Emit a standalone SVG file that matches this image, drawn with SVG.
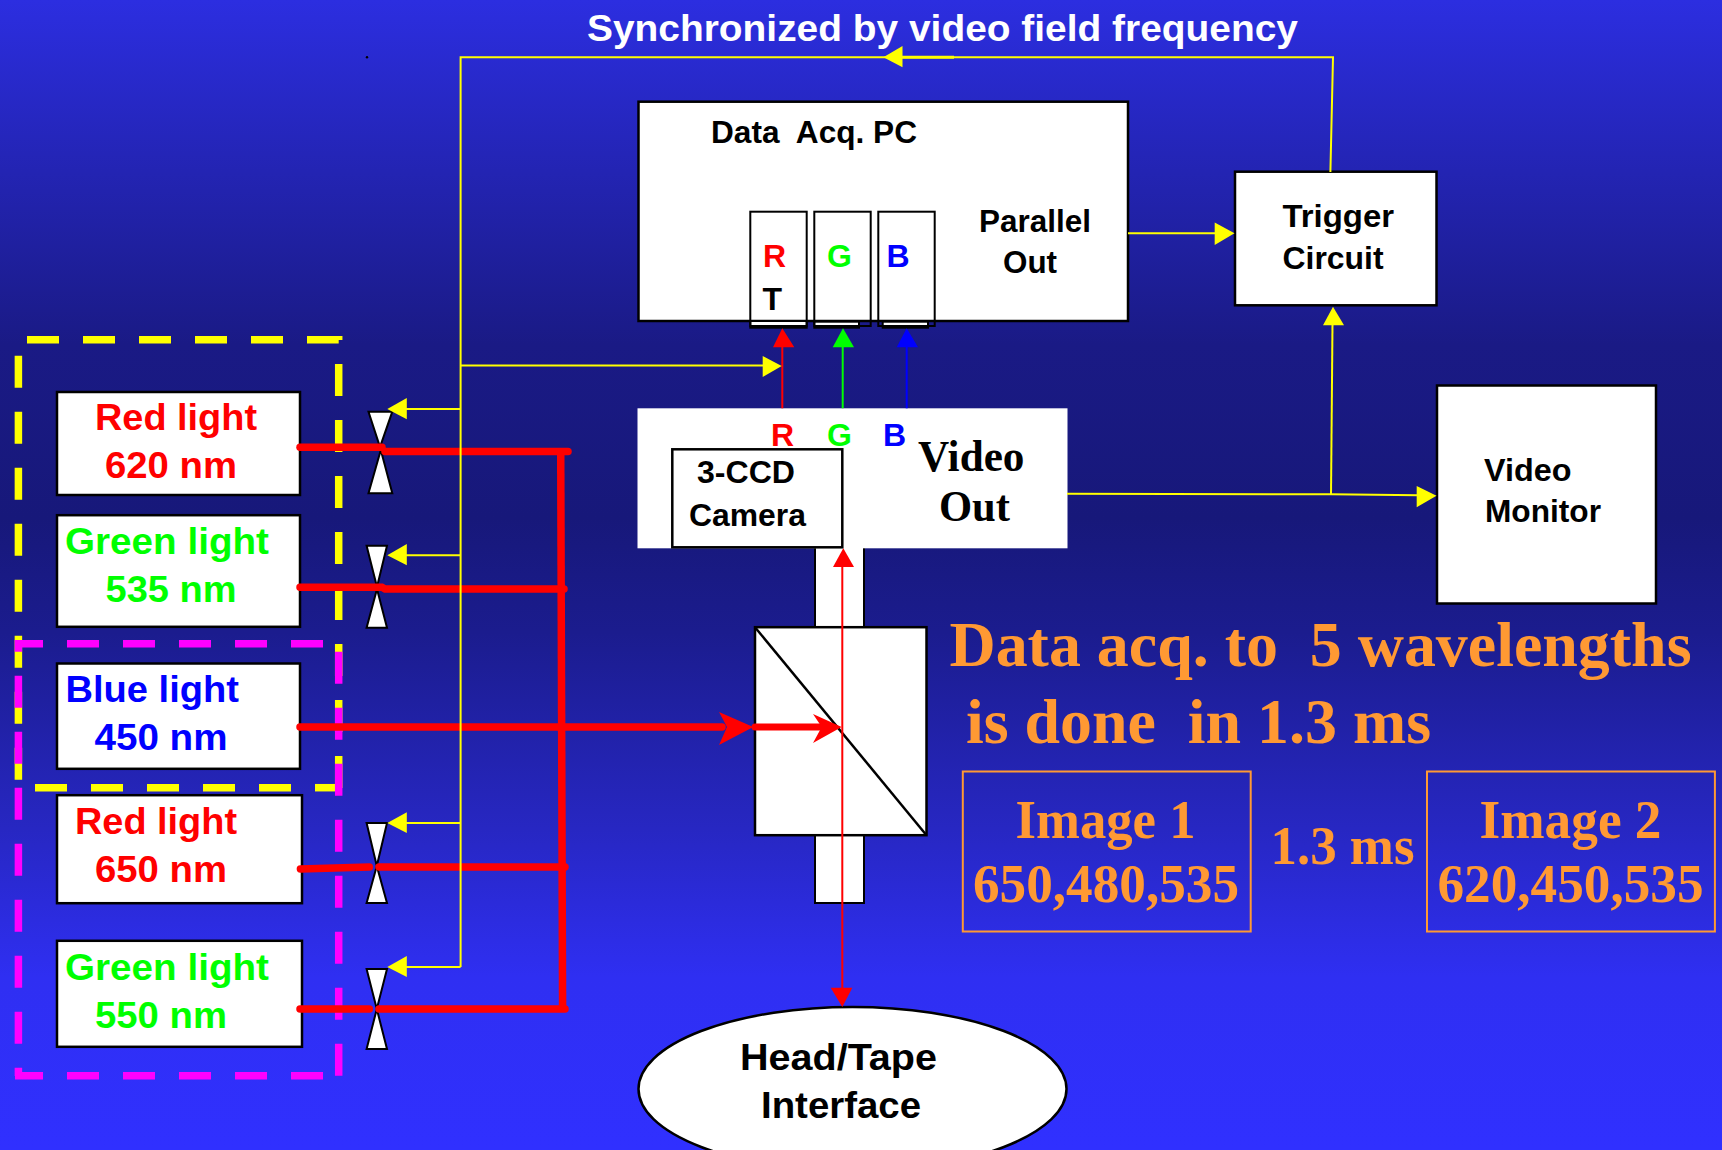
<svg xmlns="http://www.w3.org/2000/svg" width="1722" height="1150" viewBox="0 0 1722 1150">
<style>
.box{fill:#fff;stroke:#000;stroke-width:2.5}
.thin{fill:#fff;stroke:#000;stroke-width:2}
.a{font-family:"Liberation Sans",Arial,sans-serif;font-weight:700;font-size:36px}
.s{font-family:"Liberation Sans",Arial,sans-serif;font-weight:700;font-size:32px;fill:#000}
.t{font-family:"Liberation Serif","Times New Roman",serif;font-weight:700;fill:#f93}
.r{fill:#f00}.g{fill:#0f0}.b{fill:#00f}.k{fill:#000}
.dy{fill:none;stroke:#ff0;stroke-width:7.5;stroke-dasharray:32 24}
.dm{fill:none;stroke:#f0f;stroke-width:7.5;stroke-dasharray:32 24}
.yl{fill:none;stroke:#ff0;stroke-width:2}
.rl{fill:none;stroke:#f00;stroke-width:7.5;stroke-linecap:round}
.rt{fill:none;stroke:#f00;stroke-width:2}
.valve{fill:#fff;stroke:#000;stroke-width:2;stroke-linejoin:miter}
.oz{fill:none;stroke:#f93;stroke-width:2}
</style>
<defs>
<linearGradient id="bg" x1="0" y1="0" x2="0" y2="1">
<stop offset="0" stop-color="#2c2ee0"/>
<stop offset="0.3" stop-color="#1a1a85"/>
<stop offset="0.45" stop-color="#17187a"/>
<stop offset="0.55" stop-color="#1b1c8e"/>
<stop offset="0.72" stop-color="#2727c2"/>
<stop offset="0.85" stop-color="#2f2ff2"/>
<stop offset="1" stop-color="#3030ff"/>
</linearGradient>
</defs>
<rect width="1722" height="1150" fill="url(#bg)"/>
<circle cx="367" cy="57.3" r="1.2" fill="#000"/>
<text id="title" x="587" y="40.7" font-family="Liberation Sans, Arial, sans-serif" font-weight="700" font-size="37" fill="#fff" textLength="711" lengthAdjust="spacingAndGlyphs">Synchronized by video field frequency</text>

<g id="dashed-frames">
<path class="dy" d="M27 339.7H338.7V788"/>
<path class="dy" d="M18.4 355.7V788"/>
<path class="dy" d="M291 787.7H34"/>
<path class="dy" d="M339 787.7H315" style="stroke-dasharray:none"/>
<path class="dm" d="M323 643.7H15"/>
<path class="dm" d="M18.4 640V1076" stroke-dashoffset="20.3"/>
<path class="dm" d="M338.7 651.7V1076"/>
<path class="dm" d="M323 1075.7H15"/>
</g>

<g id="light-red-620"><rect class="box" x="57" y="392" width="243" height="103"/>
<text class="a r" x="95" y="430" textLength="162" lengthAdjust="spacingAndGlyphs">Red light</text>
<text class="a r" x="105" y="478" textLength="132" lengthAdjust="spacingAndGlyphs">620 nm</text></g>
<g id="light-green-535"><rect class="box" x="57" y="515.2" width="243" height="111.6"/>
<text class="a g" x="65" y="554" textLength="204" lengthAdjust="spacingAndGlyphs">Green light</text>
<text class="a g" x="105.5" y="602" textLength="131" lengthAdjust="spacingAndGlyphs">535 nm</text></g>
<g id="light-blue-450"><rect class="box" x="57" y="663.5" width="243" height="105.3"/>
<text class="a b" x="65.5" y="702" textLength="173.5" lengthAdjust="spacingAndGlyphs">Blue light</text>
<text class="a b" x="94.5" y="750" textLength="133" lengthAdjust="spacingAndGlyphs">450 nm</text></g>
<g id="light-red-650"><rect class="box" x="57" y="795.2" width="245" height="108"/>
<text class="a r" x="75" y="834" textLength="162" lengthAdjust="spacingAndGlyphs">Red light</text>
<text class="a r" x="95" y="882" textLength="132" lengthAdjust="spacingAndGlyphs">650 nm</text></g>
<g id="light-green-550"><rect class="box" x="57" y="940.8" width="245" height="106"/>
<text class="a g" x="65" y="980" textLength="204" lengthAdjust="spacingAndGlyphs">Green light</text>
<text class="a g" x="95" y="1028" textLength="132" lengthAdjust="spacingAndGlyphs">550 nm</text></g>

<g id="valve-620"><path class="valve" d="M368.5 411.7H392.3L380 447ZM368.5 493.3H392.3L380.8 450Z"/></g>
<g id="valve-535"><path class="valve" d="M366.6 545.7H387L377 587ZM366.6 627.7H387L377 589Z"/></g>
<g id="valve-650"><path class="valve" d="M366.6 823H387L376.8 866ZM366.6 903H387L376.8 866Z"/></g>
<g id="valve-550"><path class="valve" d="M366.6 969H387L376.8 1009ZM366.6 1049H387L376.8 1009Z"/></g>

<g id="data-acq-pc"><rect class="box" x="638.5" y="101.7" width="489.5" height="219.3"/>
<text class="s" x="711" y="143" textLength="206" lengthAdjust="spacingAndGlyphs" xml:space="preserve">Data  Acq. PC</text>
<text class="s" x="979" y="231.7" textLength="112" lengthAdjust="spacingAndGlyphs">Parallel</text>
<text class="s" x="1003" y="272.7" textLength="54" lengthAdjust="spacingAndGlyphs">Out</text>
<rect class="thin" x="750.3" y="321" width="56.4" height="6.7"/>
<rect class="thin" x="814.3" y="321.7" width="44.7" height="6"/>
<rect class="thin" x="882.7" y="321.7" width="45.3" height="6"/>
<rect class="thin" x="750.3" y="211.7" width="56.4" height="114.3" style="fill:none"/>
<rect class="thin" x="814.3" y="211.7" width="56.4" height="114.3" style="fill:none"/>
<rect class="thin" x="878.3" y="211.7" width="56.4" height="114.3" style="fill:none"/>
<text class="s r" x="763" y="267">R</text>
<text class="s k" x="762.5" y="310">T</text>
<text class="s g" x="827" y="267">G</text>
<text class="s b" x="886.5" y="267">B</text></g>

<g id="trigger-circuit"><rect class="box" x="1235" y="171.7" width="201.5" height="133.6"/>
<text class="s" x="1282.5" y="226.7" textLength="111.5" lengthAdjust="spacingAndGlyphs">Trigger</text>
<text class="s" x="1282.5" y="269" textLength="101" lengthAdjust="spacingAndGlyphs">Circuit</text></g>

<g id="video-monitor"><rect class="box" x="1437" y="385.5" width="219" height="218"/>
<text class="s" x="1484" y="480.5" textLength="87.5" lengthAdjust="spacingAndGlyphs">Video</text>
<text class="s" x="1485" y="522" textLength="116" lengthAdjust="spacingAndGlyphs">Monitor</text></g>

<g id="optics">
<rect class="thin" x="815" y="540" width="49" height="90"/>
<rect class="thin" x="815" y="835" width="49" height="68"/>
<rect class="box" x="755" y="627.2" width="171.5" height="208"/>
<path d="M755 627.2L926.5 835.2" fill="none" stroke="#000" stroke-width="2.5"/>
</g>

<g id="camera-3ccd"><rect x="637.5" y="408.3" width="430" height="140" fill="#fff"/>
<rect class="box" x="672.3" y="449.3" width="170" height="98"/>
<text class="s r" x="771" y="446">R</text>
<text class="s g" x="827" y="446">G</text>
<text class="s b" x="883" y="446">B</text>
<text class="s" x="697" y="482.5" textLength="98" lengthAdjust="spacingAndGlyphs">3-CCD</text>
<text class="s" x="689" y="525.5" textLength="117" lengthAdjust="spacingAndGlyphs">Camera</text>
<text font-family="Liberation Serif, Times New Roman, serif" font-weight="700" font-size="44" x="918" y="471" textLength="106.5" lengthAdjust="spacingAndGlyphs" fill="#000">Video</text>
<text font-family="Liberation Serif, Times New Roman, serif" font-weight="700" font-size="44" x="939" y="521" textLength="71" lengthAdjust="spacingAndGlyphs" fill="#000">Out</text></g>

<g id="head-tape-interface"><ellipse cx="852.5" cy="1089" rx="214" ry="82" fill="#fff" stroke="#000" stroke-width="2.5"/>
<text class="s" style="font-size:36px" x="740" y="1070" textLength="197" lengthAdjust="spacingAndGlyphs">Head/Tape</text>
<text class="s" style="font-size:36px" x="761" y="1118" textLength="160" lengthAdjust="spacingAndGlyphs">Interface</text></g>

<g id="note">
<text class="t" font-size="64" x="949.5" y="666" textLength="742" lengthAdjust="spacingAndGlyphs" xml:space="preserve">Data acq. to  5 wavelengths</text>
<text class="t" font-size="64" x="966" y="743" textLength="465" lengthAdjust="spacingAndGlyphs" xml:space="preserve">is done  in 1.3 ms</text>
<text class="t" font-size="54" x="1270.5" y="864" textLength="144" lengthAdjust="spacingAndGlyphs">1.3 ms</text>
</g>
<g id="image-1"><rect class="oz" x="962.8" y="771.5" width="287.9" height="160"/>
<text class="t" font-size="54" x="1015.5" y="838.3" textLength="180" lengthAdjust="spacingAndGlyphs">Image 1</text>
<text class="t" font-size="54" x="973" y="902.3" textLength="266" lengthAdjust="spacingAndGlyphs">650,480,535</text></g>
<g id="image-2"><rect class="oz" x="1427" y="771.5" width="287.9" height="160"/>
<text class="t" font-size="54" x="1479.5" y="838.3" textLength="182" lengthAdjust="spacingAndGlyphs">Image 2</text>
<text class="t" font-size="54" x="1437.5" y="902.3" textLength="266" lengthAdjust="spacingAndGlyphs">620,450,535</text></g>

<g id="connectors">
<path class="rl" d="M300 447.3H382"/>
<path class="rl" d="M385 451.5H568"/>
<path class="rl" d="M300 587.3H382L385 589H564"/>
<path class="rl" d="M300 727H722"/>
<path class="rl" d="M300.4 869L369.3 867"/>
<path class="rl" d="M379 867H565"/>
<path class="rl" d="M300 1009H369.3"/>
<path class="rl" d="M379 1009H565"/>
<path class="rl" style="stroke-linecap:butt" d="M560.7 448L562.6 1009"/>
<path class="r" d="M753.3 727L719 712L727 727L719 745Z"/>
<path class="rl" style="stroke-width:7" d="M755 727H825"/>
<path class="r" d="M841.7 727L813 714L821.7 727L813 743Z"/>
<path class="rt" d="M782.3 408.3V345"/><path class="r" d="M782.3 328.3L773 347.3H794.3Z"/>
<path d="M842.7 408.3V345" fill="none" stroke="#0f0" stroke-width="2"/><path class="g" d="M843 328.3L832.7 347.3H854Z"/>
<path d="M906.7 408.3V345" fill="none" stroke="#00f" stroke-width="2"/><path class="b" d="M906.7 328.3L896.7 347.3H918Z"/>
<path class="rt" d="M842.3 565V990"/>
<path class="r" d="M843.3 548.3L833 567H854Z"/>
<path class="r" d="M842.3 1007L830.7 987.7H852.3Z"/>
<path class="yl" d="M1330.4 172L1333 57.3H460.6V967"/>
<path style="fill:none;stroke:#ff0;stroke-width:3" d="M900 57.3H954"/>
<path fill="#ff0" d="M883.4 57.3L902.5 46V67.3Z"/>
<path class="yl" d="M460.6 365.5H765"/><path fill="#ff0" d="M781.7 366L762.7 356V377Z"/>
<path class="yl" d="M460.6 409H405"/><path fill="#ff0" d="M387.3 409L406.8 398V419.3Z"/>
<path class="yl" d="M460.6 555.3H405"/><path fill="#ff0" d="M387.3 555.3L406.8 544V565.3Z"/>
<path class="yl" d="M460.6 823H405"/><path fill="#ff0" d="M387.3 823L406.8 812.3V833Z"/>
<path class="yl" d="M460.6 967H405"/><path fill="#ff0" d="M387.3 967L406.8 956V977Z"/>
<path class="yl" d="M1128 233.3H1216"/><path fill="#ff0" d="M1234.5 233.3L1214.7 222.5V245Z"/>
<path class="yl" d="M1067 493.7L1331 494.3L1418 495.3"/><path fill="#ff0" d="M1436.5 495.7L1416.7 486V507.3Z"/>
<path class="yl" d="M1331 494.3L1332.5 323"/><path fill="#ff0" d="M1333 306.7L1323 325.3H1344Z"/>
</g>
</svg>
